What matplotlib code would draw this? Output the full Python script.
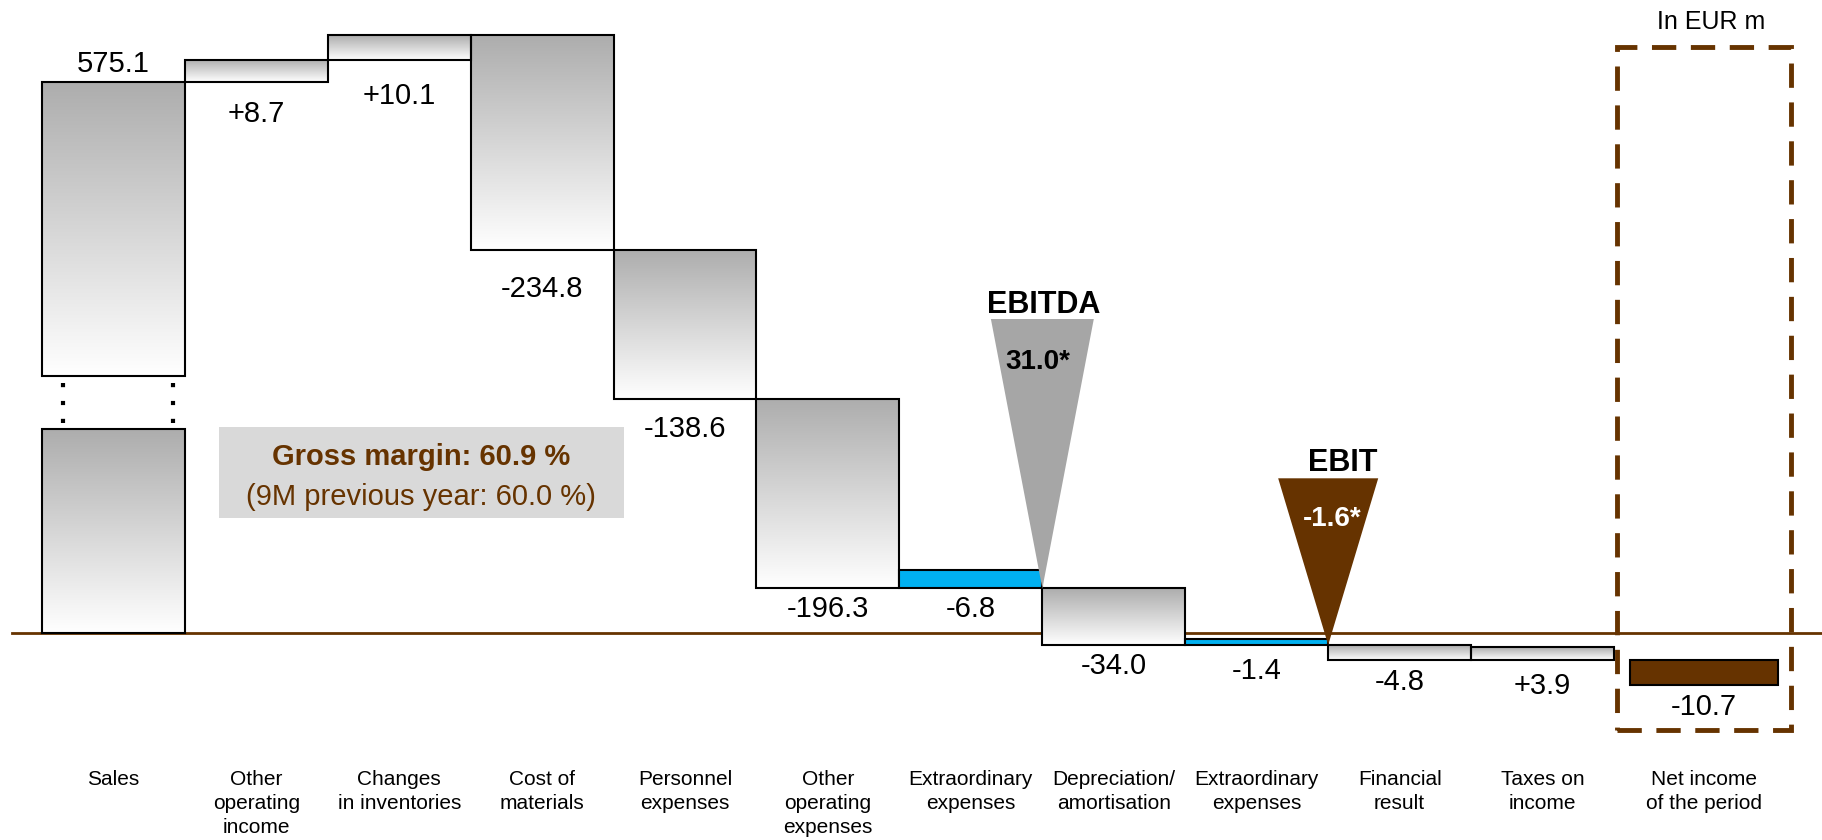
import numpy as np
import matplotlib
matplotlib.use("Agg")
import matplotlib.pyplot as plt
from matplotlib.patches import Rectangle, Polygon
from matplotlib.colors import LinearSegmentedColormap

plt.rcParams['font.family'] = ['Liberation Sans', 'DejaVu Sans']

# ---------------- data ----------------
categories = ["Sales", "Other\noperating\nincome", "Changes\nin inventories",
              "Cost of\nmaterials", "Personnel\nexpenses", "Other\noperating\nexpenses",
              "Extraordinary\nexpenses", "Depreciation/\namortisation",
              "Extraordinary\nexpenses", "Financial\nresult", "Taxes on\nincome",
              "Net income\nof the period"]
values = [575.1, 8.7, 10.1, -234.8, -138.6, -196.3, -6.8, -34.0, -1.4, -4.8, 3.9, -10.7]
value_labels = ["575.1", "+8.7", "+10.1", "-234.8", "-138.6", "-196.3",
                "-6.8", "-34.0", "-1.4", "-4.8", "+3.9", "-10.7"]
kinds = ["total", "delta", "delta", "delta", "delta", "delta",
         "special", "delta", "special", "delta", "side", "result"]
ebitda_label = "31.0*"
ebit_label = "-1.6*"
gross_margin_text = "Gross margin: 60.9 %"
gross_margin_prev_text = "(9M previous year: 60.0 %)"
unit_text = "In EUR m"

# ---------------- style ----------------
BROWN = "#663300"
BLUE = "#00b0f0"
TRI_GRAY = "#a6a6a6"
EXP = 0.69            # visual compression of bar lengths (schematic chart)
label_gap_pts = [3, 13, 16, 18, 12, 5, 5, 5, 9, 6, 9, 6]
x_centers = [0, 1, 2, 3, 4, 5, 6, 7, 8, 9, 10, 11.13]
widths = [1, 1, 1, 1, 1, 1, 1, 1, 1, 1, 1, 1.03]


def squash(v):
    return np.sign(v) * np.abs(v) ** EXP


fig = plt.figure(figsize=(18.22, 8.40), dpi=100)
ax = fig.add_axes([0, 0, 1, 1])
ax.set_axis_off()

d = [squash(v) for v in values]
ebitda_level = squash(sum(values[:6]))
level = ebitda_level - sum(d[1:6])

grad = np.linspace(0, 1, 256).reshape(-1, 1)
gcmap = LinearSegmentedColormap.from_list("g", ["#ffffff", "#adadad"])


def grad_bar(x0, x1, y0, y1):
    ax.imshow(grad, extent=[x0, x1, y0, y1], origin="lower", cmap=gcmap,
              aspect="auto", zorder=2, interpolation="bilinear")
    ax.add_patch(Rectangle((x0, y0), x1 - x0, y1 - y0, fill=False,
                           edgecolor="black", lw=1.5, zorder=3))


bars = []
levels_after = []
for i, (k, dv) in enumerate(zip(kinds, d)):
    if k == "total":
        lo, hi = 0.0, level
    elif k == "delta":
        new = level + dv
        lo, hi = min(level, new), max(level, new)
        level = new
    elif k in ("special", "side"):
        lo, hi = level, level + abs(dv)
    else:  # result
        lo, hi = level - abs(dv), level
    bars.append((lo, hi))
    levels_after.append(level)

# baseline
ax.axhline(0, xmin=12 / 1822, xmax=1, color=BROWN, lw=2.0, zorder=1)

for i, ((lo, hi), k) in enumerate(zip(bars, kinds)):
    xc, w = x_centers[i], widths[i]
    x0, x1 = xc - w / 2, xc + w / 2
    if k == "total":
        h = hi - lo
        b1, b2 = lo + 0.37 * h, lo + 0.466 * h
        grad_bar(x0, x1, lo, b1)
        grad_bar(x0, x1, b2, hi)
        for dx in (-0.35, 0.42):
            ax.plot([xc + dx, xc + dx], [b1 + 1.2, b2 - 1.0], color="black",
                    lw=3, linestyle=(0, (1, 3.3)), solid_capstyle="butt",
                    dash_capstyle="butt", zorder=3)
        ax.annotate(value_labels[i], (xc, hi), xytext=(0, label_gap_pts[i]),
                    textcoords="offset points", ha="center", va="bottom",
                    fontsize=21)
        continue
    if k == "special":
        ax.add_patch(Rectangle((x0, lo), w, hi - lo, facecolor=BLUE,
                               edgecolor="black", lw=1.5, zorder=3))
    elif k == "result":
        ax.add_patch(Rectangle((x0, lo), w, hi - lo, facecolor=BROWN,
                               edgecolor="black", lw=1.5, zorder=3))
    else:
        grad_bar(x0, x1, lo, hi)
    ax.annotate(value_labels[i], (xc, lo), xytext=(0, -label_gap_pts[i]),
                textcoords="offset points", ha="center", va="top", fontsize=21)

# category labels
for xc, cat in zip(x_centers, categories):
    ax.text(xc, -27.6, cat, ha="center", va="top", fontsize=15, linespacing=1.33)

# EBITDA triangle
ax_e = 6.5
ly = levels_after[5]
ax.add_patch(Polygon([[ax_e - 0.36, 63.3], [ax_e + 0.36, 63.3], [ax_e, ly]],
                     closed=True, facecolor=TRI_GRAY, edgecolor="none", zorder=4))
ax.text(ax_e + 0.01, 66.1, "EBITDA", ha="center", va="center", fontsize=22,
        fontweight="bold", zorder=5)
ax.text(ax_e - 0.03, 54.6, ebitda_label, ha="center", va="center", fontsize=20,
        fontweight="bold", zorder=5)

# EBIT triangle
ax_b = 8.5
ly2 = levels_after[7]
ax.add_patch(Polygon([[ax_b - 0.35, 31.2], [ax_b + 0.35, 31.2], [ax_b, ly2]],
                     closed=True, facecolor=BROWN, edgecolor="none", zorder=4))
ax.text(ax_b + 0.1, 34.2, "EBIT", ha="center", va="center", fontsize=22,
        fontweight="bold", zorder=5)
ax.text(ax_b + 0.03, 23.0, ebit_label, ha="center", va="center", fontsize=20,
        fontweight="bold", color="white", zorder=5)

# gross margin box
ax.add_patch(Rectangle((0.74, 23.2), 3.57 - 0.74, 41.6 - 23.2,
                       facecolor="#d9d9d9", edgecolor="none", zorder=2))
ax.text(2.155, 35.4, gross_margin_text, ha="center", va="center", fontsize=21,
        fontweight="bold", color=BROWN, zorder=3)
ax.text(2.155, 27.4, gross_margin_prev_text, ha="center", va="center",
        fontsize=21, color=BROWN, zorder=3)

# dashed highlight box
ax.add_patch(Rectangle((10.52, -19.55), 11.74 - 10.52, 118.1 + 19.55,
                       fill=False, edgecolor=BROWN, lw=3.5,
                       linestyle=(0, (5, 3)), zorder=5))
ax.text(11.18, 123.1, unit_text, ha="center", va="center", fontsize=18)

ax.set_xlim(-0.793, 11.955)
ax.set_ylim(-41.7, 127.6)

fig.savefig("out.png", dpi=100)
